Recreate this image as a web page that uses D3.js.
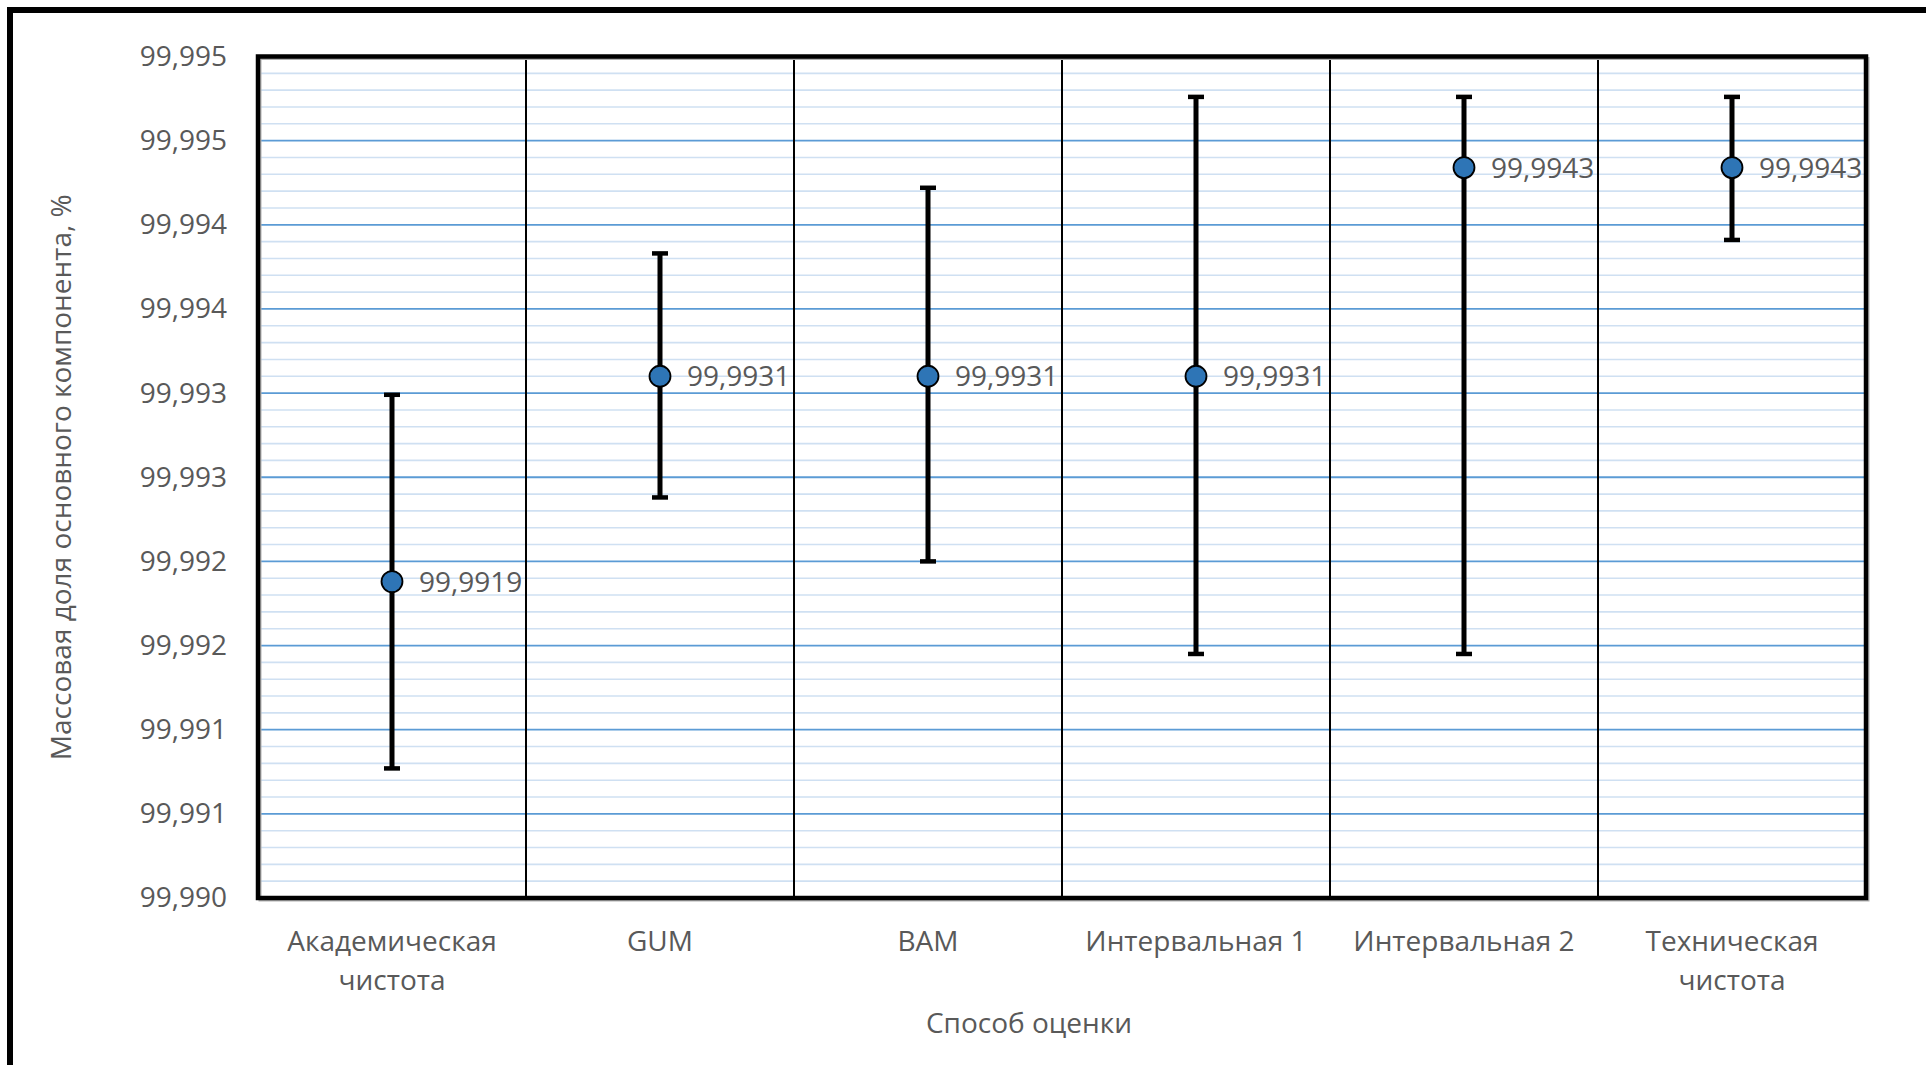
<!DOCTYPE html>
<html>
<head>
<meta charset="utf-8">
<script src="https://cdn.jsdelivr.net/npm/d3@7"></script>
<style>
  html, body { margin: 0; padding: 0; background: #ffffff; }
  svg { display: block; }
  text { font-family: "Open Sans", "Noto Sans", sans-serif; fill: #595959; }
</style>
</head>
<body>
<svg id="chart" width="1926" height="1065"></svg>
<script>
// ---- data ----
const categories = [
  ["Академическая", "чистота"],
  ["GUM"],
  ["BAM"],
  ["Интервальная 1"],
  ["Интервальная 2"],
  ["Техническая", "чистота"]
];
const meanValues  = [99.99188, 99.99310, 99.99310, 99.99310, 99.99434, 99.99434];
const lowValues   = [99.99077, 99.99238, 99.99200, 99.99145, 99.99145, 99.99391];
const highValues  = [99.99299, 99.99383, 99.99422, 99.99476, 99.99476, 99.99476];
const yTickValues = [99.990, 99.9905, 99.991, 99.9915, 99.992, 99.9925, 99.993, 99.9935, 99.994, 99.9945, 99.995];
const yTickLabels = ["99,990", "99,991", "99,991", "99,992", "99,992", "99,993", "99,993", "99,994", "99,994", "99,995", "99,995"];
const yMinorStep  = 0.0001;
const xTitle = "Способ оценки";
const yTitle = "Массовая доля основного компонента, %";

// ---- layout ----
const W = 1926, H = 1065;
const plot = { left: 258, right: 1866, top: 56.5, bottom: 898 };
const svg = d3.select("#chart");

const catKeys = categories.map(c => c.join(" "));
const x = d3.scaleBand().domain(catKeys).range([plot.left, plot.right]).padding(0);
const y = d3.scaleLinear().domain([99.990, 99.995]).range([plot.bottom, plot.top]);

// outer chart frame (extends beyond the visible right/bottom edge)
svg.append("rect")
  .attr("x", 10).attr("y", 10).attr("width", W + 20).attr("height", H + 20)
  .attr("fill", "none").attr("stroke", "#000").attr("stroke-width", 6);

// minor gridlines
const minorVals = d3.range(0, 51).map(i => 99.990 + i * yMinorStep)
  .filter((v, i) => i % 5 !== 0);
svg.append("g").selectAll("line").data(minorVals).join("line")
  .attr("x1", plot.left).attr("x2", plot.right)
  .attr("y1", d => y(d)).attr("y2", d => y(d))
  .attr("stroke", "#cfe0f2").attr("stroke-width", 1.6);

// major gridlines
svg.append("g").selectAll("line").data(yTickValues).join("line")
  .attr("x1", plot.left).attr("x2", plot.right)
  .attr("y1", d => y(d)).attr("y2", d => y(d))
  .attr("stroke", "#5b9bd5").attr("stroke-width", 1.8);

// vertical category separators
const seps = catKeys.slice(1).map(k => x(k));
svg.append("g").selectAll("line").data(seps).join("line")
  .attr("x1", d => d).attr("x2", d => d)
  .attr("y1", plot.top).attr("y2", plot.bottom)
  .attr("stroke", "#000").attr("stroke-width", 2);

// plot area frame with subtle shadow
svg.append("rect")
  .attr("x", plot.left + 2).attr("y", plot.top + 2)
  .attr("width", plot.right - plot.left).attr("height", plot.bottom - plot.top)
  .attr("fill", "none").attr("stroke", "#b0b0b0").attr("stroke-width", 3);
svg.append("rect")
  .attr("x", plot.left).attr("y", plot.top)
  .attr("width", plot.right - plot.left).attr("height", plot.bottom - plot.top)
  .attr("fill", "none").attr("stroke", "#000").attr("stroke-width", 4.5);

// y axis tick labels
const yAxis = d3.axisLeft(y).tickValues(yTickValues)
  .tickFormat((d, i) => yTickLabels[i]).tickSize(0).tickPadding(31);
const gy = svg.append("g").attr("transform", `translate(${plot.left},0)`).call(yAxis);
gy.select(".domain").remove();
gy.selectAll("text").attr("font-size", 28).attr("fill", "#595959")
  .style("font-family", '"Open Sans", sans-serif');

// x axis category labels
const gx = svg.append("g");
categories.forEach((lines, i) => {
  const cx = x(catKeys[i]) + x.bandwidth() / 2;
  const t = gx.append("text").attr("text-anchor", "middle").attr("font-size", 28);
  lines.forEach((ln, j) => {
    t.append("tspan").attr("x", cx).attr("y", 951 + j * 39).text(ln);
  });
});

// axis titles
svg.append("text").attr("x", 1029).attr("y", 1033)
  .attr("text-anchor", "middle").attr("font-size", 28).text(xTitle);
svg.append("text")
  .attr("transform", `translate(71,${(plot.top + plot.bottom) / 2}) rotate(-90)`)
  .attr("text-anchor", "middle").attr("font-size", 28).text(yTitle);

// error bars
const idx = d3.range(categories.length);
const cxOf = i => x(catKeys[i]) + x.bandwidth() / 2;
const eb = svg.append("g");
eb.selectAll("line.stem").data(idx).join("line").attr("class", "stem")
  .attr("x1", cxOf).attr("x2", cxOf)
  .attr("y1", i => y(highValues[i])).attr("y2", i => y(lowValues[i]))
  .attr("stroke", "#000").attr("stroke-width", 5);
eb.selectAll("line.capHi").data(idx).join("line").attr("class", "capHi")
  .attr("x1", i => cxOf(i) - 8).attr("x2", i => cxOf(i) + 8)
  .attr("y1", i => y(highValues[i])).attr("y2", i => y(highValues[i]))
  .attr("stroke", "#000").attr("stroke-width", 4.5);
eb.selectAll("line.capLo").data(idx).join("line").attr("class", "capLo")
  .attr("x1", i => cxOf(i) - 8).attr("x2", i => cxOf(i) + 8)
  .attr("y1", i => y(lowValues[i])).attr("y2", i => y(lowValues[i]))
  .attr("stroke", "#000").attr("stroke-width", 4.5);

// markers
svg.append("g").selectAll("circle").data(idx).join("circle")
  .attr("cx", cxOf).attr("cy", i => y(meanValues[i])).attr("r", 10.5)
  .attr("fill", "#2e75b6").attr("stroke", "#000").attr("stroke-width", 1.8);

// data labels
const fmt = d3.format(".4f");
svg.append("g").selectAll("text").data(idx).join("text")
  .attr("x", i => cxOf(i) + 27).attr("y", i => y(meanValues[i]))
  .attr("dy", "0.36em").attr("font-size", 28)
  .text(i => fmt(meanValues[i]).replace(".", ","));
</script>
</body>
</html>
